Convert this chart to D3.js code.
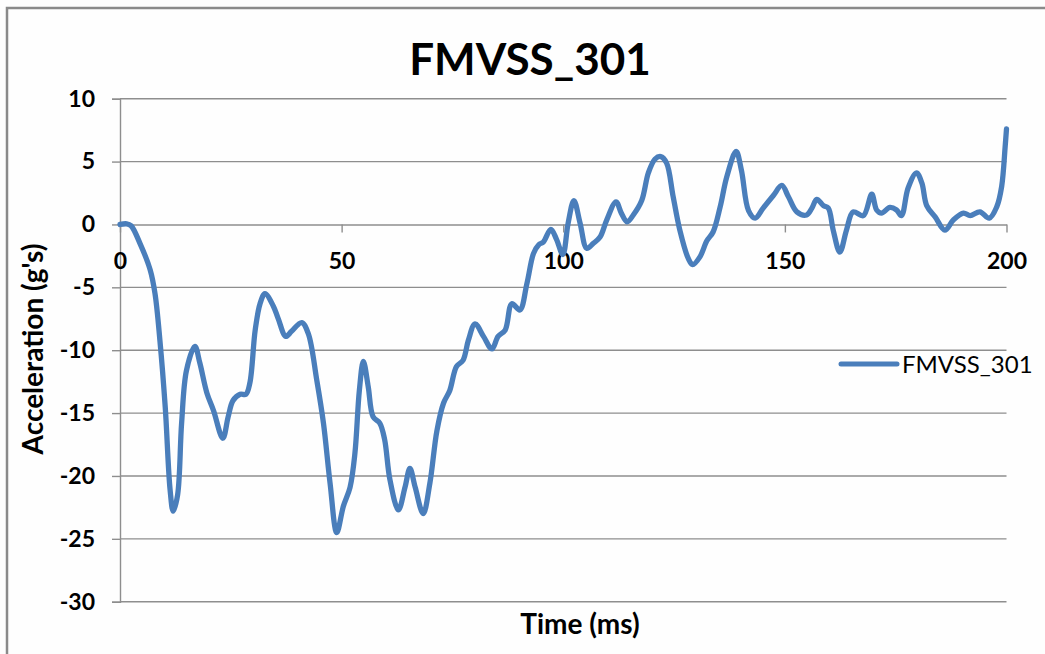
<!DOCTYPE html>
<html>
<head>
<meta charset="utf-8">
<script src="https://cdn.jsdelivr.net/npm/d3@7"></script>
<style>
  html, body { margin: 0; padding: 0; background: #fefefe; }
  svg { display: block; }
  text { font-family: Lato, "Open Sans", sans-serif; fill: #000; }
</style>
</head>
<body>
<svg id="chart" width="1045" height="654"></svg>
<script>
// Crash pulse, FMVSS_301: acceleration (g's) against time (ms)
const timeMs = [
  0, 1.5, 2.5, 4.5, 6.8, 7.9, 9.0, 10.2, 11.3, 12.0, 13.0, 13.9, 15.0, 16.9, 18.0, 19.6,
  21.1, 23.2, 24.4, 25.5, 27.1, 28.4, 29.3, 30.5, 31.6, 32.7, 34.6, 35.7, 37.4, 38.7,
  41.0, 42.5, 44.4, 45.9, 47.4, 48.9, 50.4, 51.9, 53.0, 54.0, 54.9, 56.0, 57.1, 58.6,
  59.7, 60.9, 62.8, 64.3, 65.4, 66.6, 68.4, 69.9, 71.5, 73.0, 74.4, 75.9, 77.4, 78.6,
  80.1, 82.0, 83.9, 85.3, 86.9, 88.4, 90.2, 91.8, 93.3, 94.5, 95.5, 97.2, 98.5, 99.9,
  101.1, 102.4, 103.8, 105.3, 106.8, 108.3, 109.8, 111.9, 113.1, 114.4, 115.8, 117.7,
  119.2, 120.7, 122.0, 123.3, 124.8, 126.3, 128.2, 129.2, 130.8, 132.4, 133.8, 135.4,
  136.9, 139.0, 140.2, 141.8, 143.3, 145.1, 147.4, 149.3, 150.8, 152.7, 154.9, 156.1,
  157.2, 158.7, 159.8, 160.9, 162.4, 163.9, 165.4, 167.7, 169.6, 170.7, 171.8, 173.7,
  175.2, 176.3, 177.8, 179.7, 180.9, 182.0, 183.9, 186.1, 188.0, 190.3, 191.8, 194.0,
  196.1, 197.8, 198.9, 199.7, 200
];
const accelG = [
  0, 0.05, -0.1, -1.5, -3.6, -5.5, -9.2, -14.5, -21.1, -22.8, -21.5, -15.8, -11.6, -9.7, -11.0, -13.4,
  -14.8, -17.0, -15.3, -14.0, -13.5, -13.5, -12.6, -8.4, -6.3, -5.5, -6.5, -7.5, -8.9, -8.5,
  -7.8, -8.7, -12.4, -15.8, -20.6, -24.5, -22.4, -20.9, -18.2, -13.2, -10.9, -12.9, -15.3, -15.8,
  -17.1, -20.3, -22.7, -20.9, -19.4, -20.9, -23.0, -20.6, -16.4, -14.2, -13.2, -11.3, -10.8, -9.2,
  -7.9, -8.9, -9.9, -8.9, -8.4, -6.3, -6.8, -4.7, -2.3, -1.6, -1.4, -0.4, -1.2, -2.4,
  0.1, 1.9, 0.1, -1.9, -1.5, -1.0, 0.35, 1.8, 0.9, 0.2, 0.75, 1.9,
  4.1, 5.2, 5.4, 4.9, 2.2, -0.45, -2.7, -3.2, -2.6, -1.3, -0.6, 1.4,
  3.8, 5.8, 4.3, 1.1, 0.5, 1.3, 2.3, 3.1, 2.2, 1.0, 0.75, 1.3,
  2.0, 1.5, 1.3, -0.45, -2.2, -0.45, 1.0, 0.7, 2.4, 1.15, 0.9, 1.35,
  1.15, 0.7, 2.9, 4.1, 3.3, 1.5, 0.6, -0.45, 0.35, 0.9, 0.7, 1.0,
  0.5, 1.4, 3.0, 6.2, 7.6
];
const xTicks = [0, 50, 100, 150, 200];
const yTicks = [-30, -25, -20, -15, -10, -5, 0, 5, 10];
const seriesName = "FMVSS_301";
const chartTitle = "FMVSS_301";
const xTitle = "Time (ms)";
const yTitle = "Acceleration (g's)";

const svg = d3.select("#chart");
const lineColor = "#4a7ebb";
const gridColor = "#8e8e8e";

// chart area frame
svg.append("rect")
  .attr("x", 7).attr("y", 8)
  .attr("width", 1100).attr("height", 700)
  .attr("fill", "#fefefe")
  .attr("stroke", "#8a8a8a").attr("stroke-width", 2.5);

const x = d3.scaleLinear().domain([0, 200]).range([120, 1006.5]);
const y = d3.scaleLinear().domain([-30, 10]).range([601.7, 98.7]);

// horizontal gridlines
svg.append("g")
  .selectAll("line")
  .data(yTicks.filter(v => v !== 0))
  .join("line")
  .attr("x1", x(0)).attr("x2", x(200))
  .attr("y1", d => y(d)).attr("y2", d => y(d))
  .attr("stroke", gridColor).attr("stroke-width", 1.4);

// value axis
const yAxis = svg.append("g")
  .attr("transform", `translate(${x(0)},0)`)
  .call(d3.axisLeft(y).tickValues(yTicks).tickSize(8).tickPadding(17).tickFormat(d => String(d)));
yAxis.select(".domain").attr("stroke", gridColor).attr("stroke-width", 1.4);
yAxis.selectAll(".tick line").attr("stroke", gridColor).attr("stroke-width", 1.4);
yAxis.selectAll(".tick text")
  .attr("font-family", "Lato, sans-serif")
  .attr("font-size", 23).attr("font-weight", "bold").attr("fill", "#000");

// time axis, crossing at zero
const xAxis = svg.append("g")
  .attr("transform", `translate(0,${y(0)})`)
  .call(d3.axisBottom(x).tickValues(xTicks).tickSize(8).tickPadding(20).tickSizeOuter(0)
    .tickFormat(d => String(d)));
xAxis.select(".domain").attr("stroke", gridColor).attr("stroke-width", 1.4);
xAxis.selectAll(".tick line").attr("stroke", gridColor).attr("stroke-width", 1.4);
xAxis.selectAll(".tick text")
  .attr("font-family", "Lato, sans-serif")
  .attr("font-size", 23).attr("font-weight", "bold").attr("fill", "#000");

// series line (smoothed)
const pts = timeMs.map((t, i) => [t, accelG[i]]);
const line = d3.line()
  .x(d => x(d[0])).y(d => y(d[1]))
  .curve(d3.curveCatmullRom.alpha(0.5));
svg.append("path")
  .datum(pts)
  .attr("d", line)
  .attr("fill", "none")
  .attr("stroke", lineColor)
  .attr("stroke-width", 5.3)
  .attr("stroke-linejoin", "round")
  .attr("stroke-linecap", "round");

// title
svg.append("text")
  .attr("x", 530).attr("y", 75)
  .attr("text-anchor", "middle")
  .attr("font-size", 44).attr("font-weight", "bold")
  .text(chartTitle);

// axis titles
svg.append("text")
  .attr("x", 580).attr("y", 634)
  .attr("text-anchor", "middle")
  .attr("font-size", 28).attr("font-weight", "bold")
  .text(xTitle);

svg.append("text")
  .attr("transform", `translate(43,349) rotate(-90)`)
  .attr("text-anchor", "middle")
  .attr("font-size", 28).attr("font-weight", "bold")
  .text(yTitle);

// legend
const legend = svg.append("g").attr("transform", "translate(841,364)");
legend.append("line")
  .attr("x1", 0).attr("x2", 56).attr("y1", 0).attr("y2", 0)
  .attr("stroke", lineColor).attr("stroke-width", 5).attr("stroke-linecap", "round");
legend.append("text")
  .attr("x", 61).attr("y", 8.5)
  .attr("font-size", 24)
  .text(seriesName);
</script>
</body>
</html>
